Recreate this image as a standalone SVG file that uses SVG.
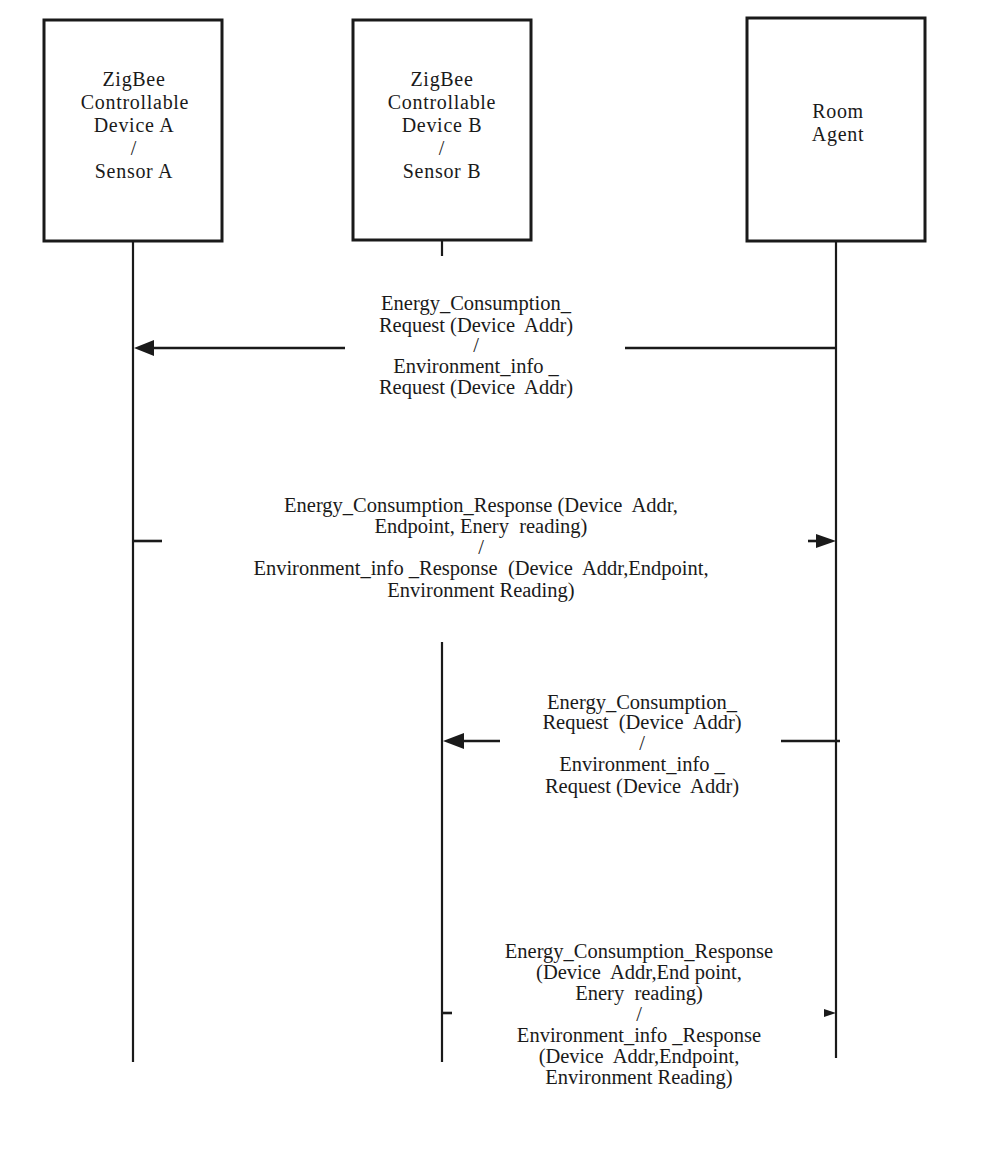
<svg xmlns="http://www.w3.org/2000/svg" width="1005" height="1161" viewBox="0 0 1005 1161">
<style>
.box{fill:#fff;stroke:#1a1a1a;stroke-width:3}
.bt{font-family:"Liberation Serif","Times New Roman",serif;font-size:20px;letter-spacing:0.7px;fill:#1a1a1a;text-anchor:middle}
.mt{font-family:"Liberation Serif","Times New Roman",serif;font-size:20.5px;fill:#1a1a1a;text-anchor:middle;white-space:pre}
.life{stroke:#1a1a1a;stroke-width:2.2;fill:none}
.msg{stroke:#1a1a1a;stroke-width:2.6;fill:none}
.head{fill:#1a1a1a}
</style>
<rect width="1005" height="1161" fill="#fff"/>
<g id="nodeA">
<rect class="box" x="44" y="20" width="178" height="221"/>
<text class="bt" x="134" y="86">ZigBee</text>
<text class="bt" x="135" y="109">Controllable</text>
<text class="bt" x="134" y="132">Device A</text>
<text class="bt" x="134" y="155">/</text>
<text class="bt" x="134" y="178">Sensor A</text>
</g>
<g id="nodeB">
<rect class="box" x="353" y="20" width="178" height="220"/>
<text class="bt" x="442" y="86">ZigBee</text>
<text class="bt" x="442" y="109">Controllable</text>
<text class="bt" x="442" y="132">Device B</text>
<text class="bt" x="442" y="155">/</text>
<text class="bt" x="442" y="178">Sensor B</text>
</g>
<g id="roomAgent">
<rect class="box" x="747" y="18" width="178" height="223"/>
<text class="bt" x="838" y="118">Room</text>
<text class="bt" x="838" y="141">Agent</text>
</g>
<g id="connectors">
<line class="life" x1="133" y1="241" x2="133" y2="1062"/>
<line class="life" x1="442" y1="241" x2="442" y2="256"/>
<line class="life" x1="442" y1="642" x2="442" y2="1062"/>
<line class="life" x1="836" y1="241" x2="836" y2="1058"/>
<line class="msg" x1="345" y1="348" x2="150" y2="348"/>
<line class="msg" x1="625" y1="348" x2="836" y2="348"/>
<polygon class="head" points="134,348 154,340 154,356"/>
<line class="msg" x1="133" y1="541" x2="162" y2="541"/>
<line class="msg" x1="808" y1="541" x2="820" y2="541"/>
<polygon class="head" points="836,541 816,534 816,548"/>
<line class="msg" x1="500" y1="741" x2="460" y2="741"/>
<line class="msg" x1="781" y1="741" x2="840" y2="741"/>
<polygon class="head" points="443,741 464,733 464,749"/>
<line class="msg" x1="442" y1="1013" x2="452" y2="1013"/>
<polygon class="head" points="836,1013 824,1009 824,1017"/>
</g>
<g id="labels">
<text class="mt" x="476" y="310">Energy_Consumption_</text>
<text class="mt" x="476" y="332">Request (Device  Addr)</text>
<text class="mt" x="476" y="352">/</text>
<text class="mt" x="476" y="373">Environment_info _</text>
<text class="mt" x="476" y="394">Request (Device  Addr)</text>
<text class="mt" x="481" y="512">Energy_Consumption_Response (Device  Addr,</text>
<text class="mt" x="481" y="533">Endpoint, Enery  reading)</text>
<text class="mt" x="481" y="554">/</text>
<text class="mt" x="481" y="575">Environment_info _Response  (Device  Addr,Endpoint,</text>
<text class="mt" x="481" y="597">Environment Reading)</text>
<text class="mt" x="642" y="709">Energy_Consumption_</text>
<text class="mt" x="642" y="729">Request  (Device  Addr)</text>
<text class="mt" x="642" y="750">/</text>
<text class="mt" x="642" y="771">Environment_info _</text>
<text class="mt" x="642" y="793">Request (Device  Addr)</text>
<text class="mt" x="639" y="958">Energy_Consumption_Response</text>
<text class="mt" x="639" y="979">(Device  Addr,End point,</text>
<text class="mt" x="639" y="1000">Enery  reading)</text>
<text class="mt" x="639" y="1021">/</text>
<text class="mt" x="639" y="1042">Environment_info _Response</text>
<text class="mt" x="639" y="1063">(Device  Addr,Endpoint,</text>
<text class="mt" x="639" y="1084">Environment Reading)</text>
</g>
</svg>
